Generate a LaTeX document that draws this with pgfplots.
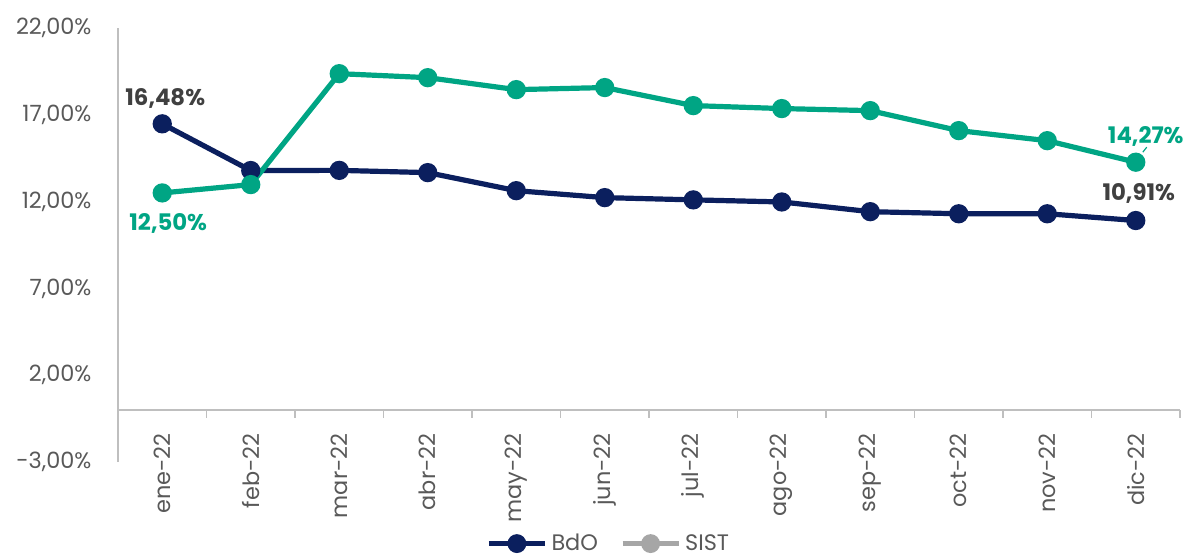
\documentclass[border=0pt]{standalone}
\usepackage{pgfplots}
\pgfplotsset{compat=1.18}
\usepackage{fontspec}
\setmainfont{Poppins}

\definecolor{bdonavy}{HTML}{0B1F5E}
\definecolor{sistgreen}{HTML}{00A584}
\definecolor{labgrey}{HTML}{404040}
\definecolor{tickgrey}{HTML}{595959}
\definecolor{axisgrey}{HTML}{BFBFBF}
\definecolor{leggrey}{HTML}{A6A6A6}

\begin{document}
\begin{tikzpicture}
\useasboundingbox (-59pt,-48.5pt) rectangle (534.5pt,231pt);
\begin{axis}[
  at={(0,0)}, anchor=south west,
  scale only axis, width=531pt, height=217pt,
  xmin=-0.5, xmax=11.5, ymin=-3, ymax=22,
  axis x line*=middle, axis y line*=left,
  axis line style={draw=axisgrey, line width=0.8pt},
  font=\fontsize{11.2pt}{13pt}\selectfont,
  xtick={0,...,11},
  xticklabels={ene-22,feb-22,mar-22,abr-22,may-22,jun-22,jul-22,ago-22,sep-22,oct-22,nov-22,dic-22},
  major x tick style={draw=none},
  minor xtick={0.5,1.5,...,11.5},
  minor x tick style={draw=axisgrey, line width=0.8pt},
  minor tick length=4pt,
  tick align=outside,
  xticklabel style={rotate=90, anchor=east, color=tickgrey, xshift=-4pt},
  ytick={-3,2,7,12,17,22},
  major y tick style={draw=none},
  yticklabel={\pgfmathprintnumber[fixed,fixed zerofill,precision=2,use comma]{\tick}\%},
  /pgf/number format/assume math mode=true,
  yticklabel style={color=tickgrey, anchor=east, xshift=-5.5pt},
  clip=false,
  legend style={at={(0.463,-0.188)}, anchor=center, draw=none, fill=none,
    legend columns=2, font=\fontsize{11.2pt}{13pt}\selectfont, text=tickgrey,
    /tikz/every even column/.append style={column sep=9pt},
    inner sep=0pt},
  legend image code/.code={
    \draw[#1, mark=none] (0pt,0pt) -- (28pt,0pt);
    \fill[#1] (14pt,0pt) circle (3.4pt);
  },
]
\addlegendimage{bdonavy, line width=2.6pt}
\addlegendentry{BdO}
\addlegendimage{leggrey, line width=2.6pt}
\addlegendentry{SIST}

% BdO
\addplot[bdonavy, line width=2.6pt, mark=*, mark size=3.5pt, forget plot]
  coordinates {(0,16.48) (1,13.79) (2,13.80) (3,13.67) (4,12.63) (5,12.23)
               (6,12.10) (7,11.98) (8,11.42) (9,11.30) (10,11.30) (11,10.91)};
% SIST
\addplot[sistgreen, line width=2.6pt, mark=*, mark size=3.5pt, forget plot]
  coordinates {(0,12.50) (1,12.98) (2,19.37) (3,19.14) (4,18.45) (5,18.57)
               (6,17.53) (7,17.36) (8,17.24) (9,16.09) (10,15.51) (11,14.27)};

% value labels
\node[font=\fontsize{11.4pt}{13pt}\selectfont\bfseries, text=labgrey]
  at ([xshift=1.5pt,yshift=12.5pt]axis cs:0,16.48) {16,48\%};
\node[font=\fontsize{11.4pt}{13pt}\selectfont\bfseries, text=sistgreen]
  at ([xshift=3pt,yshift=-15.5pt]axis cs:0,12.50) {12,50\%};
\node[font=\fontsize{11.4pt}{13pt}\selectfont\bfseries, text=sistgreen]
  at ([xshift=5pt,yshift=13pt]axis cs:11,14.27) {14,27\%};
\draw[sistgreen, line width=0.6pt]
  ([xshift=3.5pt,yshift=5pt]axis cs:11,14.27) -- ([xshift=5.5pt,yshift=7.5pt]axis cs:11,14.27);
\node[font=\fontsize{11.4pt}{13pt}\selectfont\bfseries, text=labgrey]
  at ([xshift=1.5pt,yshift=13.5pt]axis cs:11,10.91) {10,91\%};
\end{axis}
\end{tikzpicture}
\end{document}
